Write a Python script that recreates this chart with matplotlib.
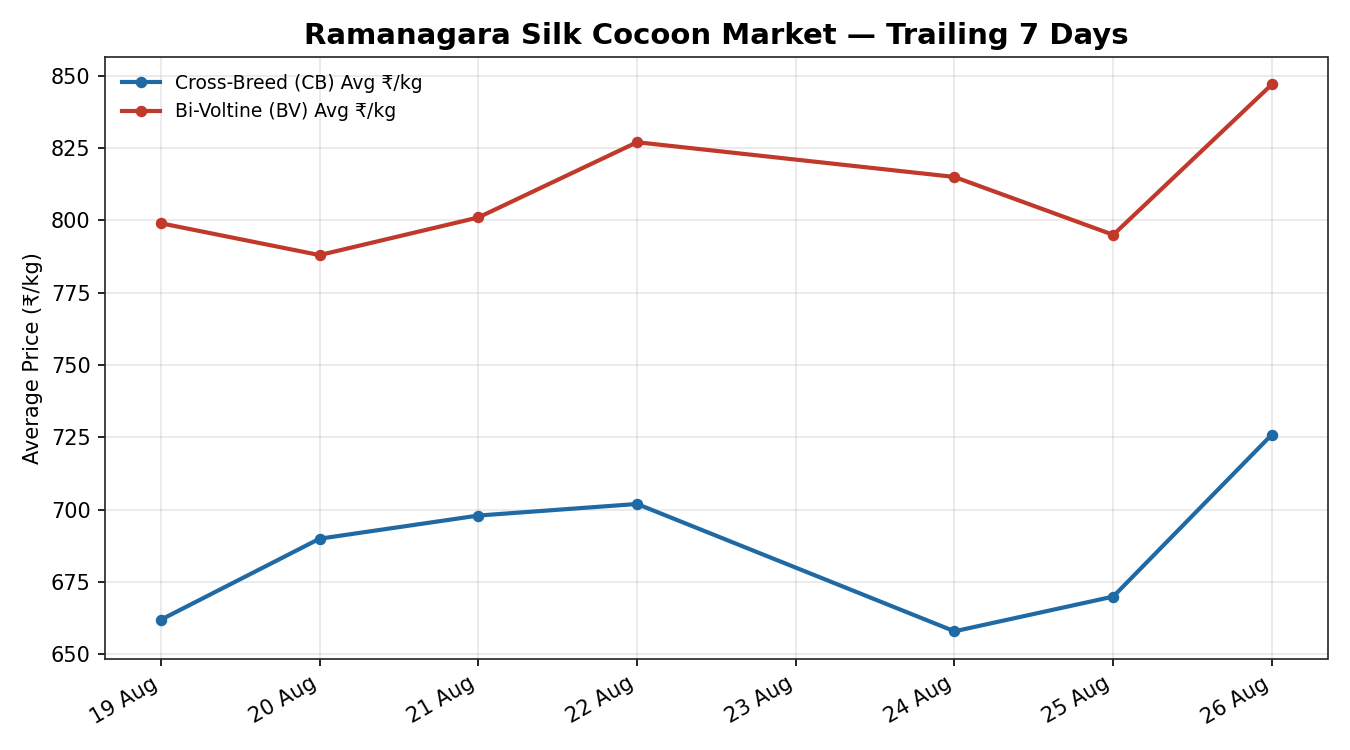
import datetime as dt
import matplotlib
matplotlib.use('Agg')
import matplotlib.pyplot as plt
import matplotlib.dates as mdates

# daily average cocoon prices, 23 Aug had no auction
dates = ['2024-08-19', '2024-08-20', '2024-08-21', '2024-08-22',
         '2024-08-24', '2024-08-25', '2024-08-26']
cb_avg = [662, 690, 698, 702, 658, 670, 726]
bv_avg = [799, 788, 801, 827, 815, 795, 847]

cb_label = 'Cross-Breed (CB) Avg ₹/kg'
bv_label = 'Bi-Voltine (BV) Avg ₹/kg'

days = [dt.datetime.strptime(d, '%Y-%m-%d') for d in dates]

fig, ax = plt.subplots(figsize=(9, 5), dpi=150)

ax.plot(days, cb_avg, color='#1f6aa5', lw=2, marker='o', ms=4.5, label=cb_label)
ax.plot(days, bv_avg, color='#c0392b', lw=2, marker='o', ms=4.5, label=bv_label)

ax.set_title('Ramanagara Silk Cocoon Market — Trailing 7 Days', fontsize=14, fontweight='bold')
ax.set_ylabel('Average Price (₹/kg)')
ax.xaxis.set_major_locator(mdates.DayLocator())
ax.xaxis.set_major_formatter(mdates.DateFormatter('%d %b'))
ax.grid(True, alpha=0.3)
for s in ax.spines.values():
    s.set_color('#222222')
ax.legend(loc='upper left', frameon=False, fontsize=9)

fig.autofmt_xdate(rotation=30, ha='right')
fig.tight_layout()
fig.savefig('out.png', dpi=150)
